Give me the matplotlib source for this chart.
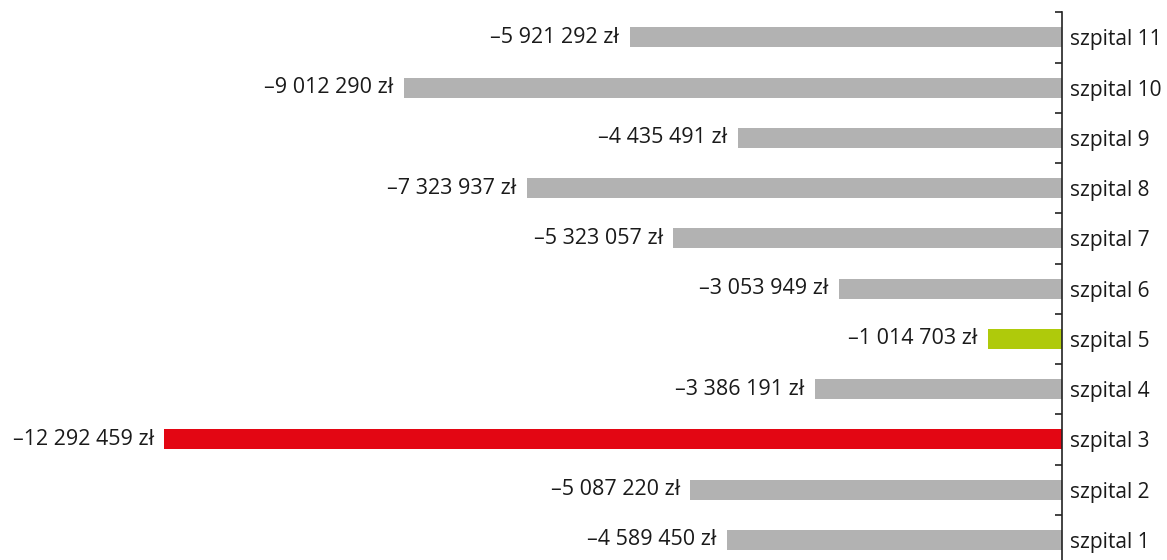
import matplotlib
matplotlib.use("Agg")
import matplotlib.pyplot as plt

hospitals = ["szpital 1", "szpital 2", "szpital 3", "szpital 4", "szpital 5", "szpital 6",
             "szpital 7", "szpital 8", "szpital 9", "szpital 10", "szpital 11"]
results = [-4589450, -5087220, -12292459, -3386191, -1014703, -3053949,
           -5323057, -7323937, -4435491, -9012290, -5921292]
highlight = {"szpital 3": "#e30613", "szpital 5": "#afca0b"}
base_color = "#b2b2b2"

plt.rcParams["font.family"] = ["Open Sans", "DejaVu Sans"]

fig = plt.figure(figsize=(11.67, 5.6), dpi=100)
ax = fig.add_axes([0.0, -0.009, 1062 / 1167, 0.987])

colors = [highlight.get(h, base_color) for h in hospitals]
ypos = list(range(len(hospitals)))
ax.barh(ypos, results, height=0.4, color=colors)


def fmt(v):
    s = f"{abs(v):,}".replace(",", " ")
    return f"\u2013{s} z\u0142"


for y, v in zip(ypos, results):
    ax.annotate(fmt(v), xy=(v, y), xytext=(-7.5, 0), textcoords="offset points",
                ha="right", va="center", fontsize=15.5, color="#1a1a1a")

ax.set_xlim(-14.54e6, 0)
ax.set_ylim(-0.5, len(hospitals) - 0.5)

for s in ["top", "bottom", "left"]:
    ax.spines[s].set_visible(False)
ax.spines["right"].set_color("#222222")
ax.spines["right"].set_linewidth(1.2)

ax.set_xticks([])
ax.yaxis.tick_right()
ax.set_yticks(ypos)
ax.set_yticklabels(hospitals, fontsize=15, color="#1a1a1a")
ax.tick_params(axis="y", which="major", length=0, pad=6)
# short inward ticks at the row boundaries
ax.set_yticks([i - 0.5 for i in range(len(hospitals) + 1)], minor=True)
ax.tick_params(axis="y", which="minor", direction="in", length=5, width=1.2,
               color="#222222", left=False, right=True)

fig.savefig("out.png", dpi=100)
